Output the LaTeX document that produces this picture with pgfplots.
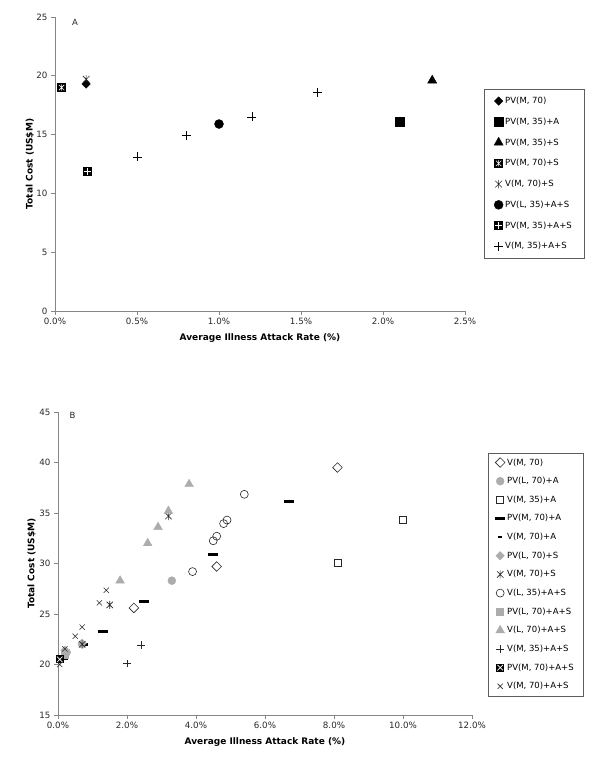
\documentclass[border=0pt]{standalone}
\usepackage{pgfplots}
\pgfplotsset{compat=1.18}
\usepackage{fontspec}
\setmainfont{DejaVu Sans}
\definecolor{axgray}{RGB}{134,134,134}
\definecolor{lg}{RGB}{172,172,172}
\definecolor{txt}{RGB}{40,40,40}
\definecolor{dk}{RGB}{40,40,40}

\pgfdeclareplotmark{boxast}{%
 \pgfsetfillcolor{black}%
 \pgfpathrectangle{\pgfqpoint{-\pgfplotmarksize}{-\pgfplotmarksize}}{\pgfqpoint{2\pgfplotmarksize}{2\pgfplotmarksize}}%
 \pgfusepathqfill
 \pgfsetstrokecolor{white}\pgfsetlinewidth{0.6pt}%
 \pgfpathmoveto{\pgfqpoint{0pt}{0.7\pgfplotmarksize}}\pgfpathlineto{\pgfqpoint{0pt}{-0.7\pgfplotmarksize}}%
 \pgfpathmoveto{\pgfqpoint{-0.6\pgfplotmarksize}{0.6\pgfplotmarksize}}\pgfpathlineto{\pgfqpoint{0.6\pgfplotmarksize}{-0.6\pgfplotmarksize}}%
 \pgfpathmoveto{\pgfqpoint{-0.6\pgfplotmarksize}{-0.6\pgfplotmarksize}}\pgfpathlineto{\pgfqpoint{0.6\pgfplotmarksize}{0.6\pgfplotmarksize}}%
 \pgfusepathqstroke
}
\pgfdeclareplotmark{boxplus}{%
 \pgfsetfillcolor{black}%
 \pgfpathrectangle{\pgfqpoint{-\pgfplotmarksize}{-\pgfplotmarksize}}{\pgfqpoint{2\pgfplotmarksize}{2\pgfplotmarksize}}%
 \pgfusepathqfill
 \pgfsetstrokecolor{white}\pgfsetlinewidth{0.8pt}%
 \pgfpathmoveto{\pgfqpoint{0pt}{0.75\pgfplotmarksize}}\pgfpathlineto{\pgfqpoint{0pt}{-0.75\pgfplotmarksize}}%
 \pgfpathmoveto{\pgfqpoint{-0.75\pgfplotmarksize}{0pt}}\pgfpathlineto{\pgfqpoint{0.75\pgfplotmarksize}{0pt}}%
 \pgfusepathqstroke
}
\pgfdeclareplotmark{boxx}{%
 \pgfsetfillcolor{black}%
 \pgfpathrectangle{\pgfqpoint{-\pgfplotmarksize}{-\pgfplotmarksize}}{\pgfqpoint{2\pgfplotmarksize}{2\pgfplotmarksize}}%
 \pgfusepathqfill
 \pgfsetstrokecolor{white}\pgfsetlinewidth{0.7pt}%
 \pgfpathmoveto{\pgfqpoint{-0.7\pgfplotmarksize}{0.7\pgfplotmarksize}}\pgfpathlineto{\pgfqpoint{0.7\pgfplotmarksize}{-0.7\pgfplotmarksize}}%
 \pgfpathmoveto{\pgfqpoint{-0.7\pgfplotmarksize}{-0.7\pgfplotmarksize}}\pgfpathlineto{\pgfqpoint{0.7\pgfplotmarksize}{0.7\pgfplotmarksize}}%
 \pgfusepathqstroke
}
\pgfdeclareplotmark{xstar}{%
 \pgfpathmoveto{\pgfqpoint{0pt}{\pgfplotmarksize}}\pgfpathlineto{\pgfqpoint{0pt}{-\pgfplotmarksize}}%
 \pgfpathmoveto{\pgfqpoint{-0.8\pgfplotmarksize}{0.8\pgfplotmarksize}}\pgfpathlineto{\pgfqpoint{0.8\pgfplotmarksize}{-0.8\pgfplotmarksize}}%
 \pgfpathmoveto{\pgfqpoint{-0.8\pgfplotmarksize}{-0.8\pgfplotmarksize}}\pgfpathlineto{\pgfqpoint{0.8\pgfplotmarksize}{0.8\pgfplotmarksize}}%
 \pgfusepathqstroke
}
\pgfdeclareplotmark{wdash}{%
 \pgfpathrectangle{\pgfqpoint{-5pt}{-1.5pt}}{\pgfqpoint{10pt}{3pt}}\pgfusepathqfill
}
\pgfdeclareplotmark{sdash}{%
 \pgfpathrectangle{\pgfqpoint{-2pt}{-1.3pt}}{\pgfqpoint{4pt}{2.6pt}}\pgfusepathqfill
}

\newcommand{\lblfont}{\fontsize{9}{11}\selectfont\bfseries}

\pgfplotsset{
 mystyle/.style={
  scale only axis,
  axis lines=left,
  axis line style={-, draw=axgray, line width=0.8pt},
  tick style={draw=axgray, line width=0.6pt},
  tick align=outside, major tick length=4pt,
  ticklabel style={font=\fontsize{8.7}{10}\selectfont, text=txt},
  /pgf/number format/assume math mode=true,
  legend cell align=left,
  legend image code/.code={\draw[mark repeat=2,mark phase=2,#1] plot coordinates {(0pt,0pt)(5pt,0pt)(10pt,0pt)};},
  clip=false,
  only marks,
 }
}

\begin{document}
\begin{tikzpicture}[x=1pt,y=1pt]
\path[use as bounding box] (0,0) rectangle (600,758);

% ---------------- Chart A ----------------
\begin{axis}[mystyle,
  at={(55pt,447pt)}, anchor=south west,
  width=410pt, height=294pt,
  xmin=0, xmax=2.5, ymin=0, ymax=25,
  xtick={0,0.5,...,2.5}, ytick={0,5,...,25},
  xticklabel={\pgfmathprintnumber[fixed,fixed zerofill,precision=1]{\tick}\%},
  xlabel={\lblfont Average Illness Attack Rate (\%)},
  ylabel={\lblfont Total Cost (US\$M)},
  every axis x label/.style={at={(axis description cs:0.5,-0.092)},anchor=center},
  every axis y label/.style={at={(axis description cs:-0.061,0.5)},rotate=90,anchor=center},
  legend style={at={(axis description cs:1.046,0.755)}, anchor=north west,
    draw=axgray!70!black, font=\fontsize{8.5}{10}\selectfont,
    inner xsep=10pt, inner ysep=5.9pt, row sep=8.8pt},
]
\addplot[mark=square*, mark options={rotate=45, fill=black, draw=black}, mark size=3] coordinates {(0.19,19.3)};
\addlegendentry{PV(M, 70)}
\addplot[mark=square*, mark options={fill=black, draw=black}, mark size=4.5] coordinates {(2.1,16.1)};
\addlegendentry{PV(M, 35)+A}
\addplot[mark=triangle*, mark options={fill=black, draw=black}, mark size=5.3] coordinates {(2.3,19.6)};
\addlegendentry{PV(M, 35)+S}
\addplot[mark=boxast, mark size=4.5] coordinates {(0.04,19.0)};
\addlegendentry{PV(M, 70)+S}
\addplot[mark=xstar, mark options={draw=dk, line width=0.6pt}, mark size=4.2] coordinates {(0.19,19.7)};
\addlegendentry{V(M, 70)+S}
\addplot[mark=*, mark options={fill=black, draw=black}, mark size=4.5] coordinates {(1.0,15.9)};
\addlegendentry{PV(L, 35)+A+S}
\addplot[mark=boxplus, mark size=4.5] coordinates {(0.2,11.85)};
\addlegendentry{PV(M, 35)+A+S}
\addplot[mark=+, mark options={draw=black, line width=0.6pt}, mark size=4.5] coordinates {(0.5,13.1) (0.8,14.9) (1.2,16.5) (1.6,18.6)};
\addlegendentry{V(M, 35)+A+S}
\node[font=\fontsize{8.5}{10}\selectfont, text=txt] at (axis description cs:0.049,0.983) {A};
\end{axis}

% ---------------- Chart B ----------------
\begin{axis}[mystyle,
  at={(58pt,43pt)}, anchor=south west,
  width=414pt, height=303pt,
  xmin=0, xmax=12, ymin=15, ymax=45,
  xtick={0,2,...,12}, ytick={15,20,...,45},
  xticklabel={\pgfmathprintnumber[fixed,fixed zerofill,precision=1]{\tick}\%},
  xlabel={\lblfont Average Illness Attack Rate (\%)},
  ylabel={\lblfont Total Cost (US\$M)},
  every axis x label/.style={at={(axis description cs:0.5,-0.089)},anchor=center},
  every axis y label/.style={at={(axis description cs:-0.0635,0.5)},rotate=90,anchor=center},
  legend style={at={(axis description cs:1.0386,0.866)}, anchor=north west,
    draw=axgray!70!black, font=\fontsize{8.5}{10}\selectfont,
    inner xsep=7pt, inner ysep=3.75pt, row sep=6.7pt},
  legend image code/.code={\draw[mark repeat=2,mark phase=2,#1] plot coordinates {(0pt,0pt)(5pt,0pt)(14pt,0pt)};},
]
\addplot[mark=square, mark options={rotate=45, draw=dk, fill=white, line width=0.6pt}, mark size=3.4] coordinates {(2.2,25.6) (4.6,29.7) (8.1,39.5)};
\addlegendentry{V(M, 70)}
\addplot[mark=*, mark options={fill=lg, draw=lg}, mark size=4] coordinates {(3.3,28.3) (0.7,22.0) (0.25,21.2)};
\addlegendentry{PV(L, 70)+A}
\addplot[mark=square, mark options={draw=dk, fill=white, line width=0.6pt}, mark size=3.4] coordinates {(10.0,34.3) (8.1,30.1)};
\addlegendentry{V(M, 35)+A}
\addplot[mark=wdash, mark options={fill=black, draw=black}] coordinates {(6.7,36.15) (4.5,30.85) (2.5,26.2) (1.3,23.3) (0.15,20.6)};
\addlegendentry{PV(M, 70)+A}
\addplot[mark=sdash, mark options={fill=black, draw=black}] coordinates {(0.8,22.0) (0.05,20.6)};
\addlegendentry{V(M, 70)+A}
\addplot[mark=square*, mark options={rotate=45, fill=lg, draw=lg}, mark size=3] coordinates {(0.2,21.4) (0.7,22.1)};
\addlegendentry{PV(L, 70)+S}
\addplot[mark=xstar, mark options={draw=dk, line width=0.6pt}, mark size=4] coordinates {(3.2,34.7) (1.5,25.9) (0.7,22.0) (0.05,20.5)};
\addlegendentry{V(M, 70)+S}
\addplot[mark=o, mark options={draw=dk, fill=white, line width=0.6pt}, mark size=4] coordinates {(5.4,36.85) (4.9,34.3) (4.8,33.95) (4.6,32.7) (4.5,32.25) (3.9,29.2)};
\addlegendentry{V(L, 35)+A+S}
\addplot[mark=square*, mark options={fill=lg, draw=lg}, mark size=3.5] coordinates {(0.2,21.0)};
\addlegendentry{PV(L, 70)+A+S}
\addplot[mark=triangle*, mark options={fill=lg, draw=lg}, mark size=5] coordinates {(3.8,37.85) (3.2,35.2) (2.9,33.6) (2.6,32.0) (1.8,28.3)};
\addlegendentry{V(L, 70)+A+S}
\addplot[mark=+, mark options={draw=dk, line width=0.6pt}, mark size=3.8] coordinates {(2.4,21.95) (2.0,20.1)};
\addlegendentry{V(M, 35)+A+S}
\addplot[mark=boxx, mark size=4] coordinates {(0.05,20.5)};
\addlegendentry{PV(M, 70)+A+S}
\addplot[mark=x, mark options={draw=dk, line width=0.6pt}, mark size=3.7] coordinates {(1.4,27.35) (1.2,26.1) (0.7,23.7) (0.5,22.8) (0.2,21.55) (0.05,20.0)};
\addlegendentry{V(M, 70)+A+S}
\node[font=\fontsize{8.5}{10}\selectfont, text=txt] at (axis description cs:0.035,0.99) {B};
\end{axis}
\end{tikzpicture}
\end{document}
